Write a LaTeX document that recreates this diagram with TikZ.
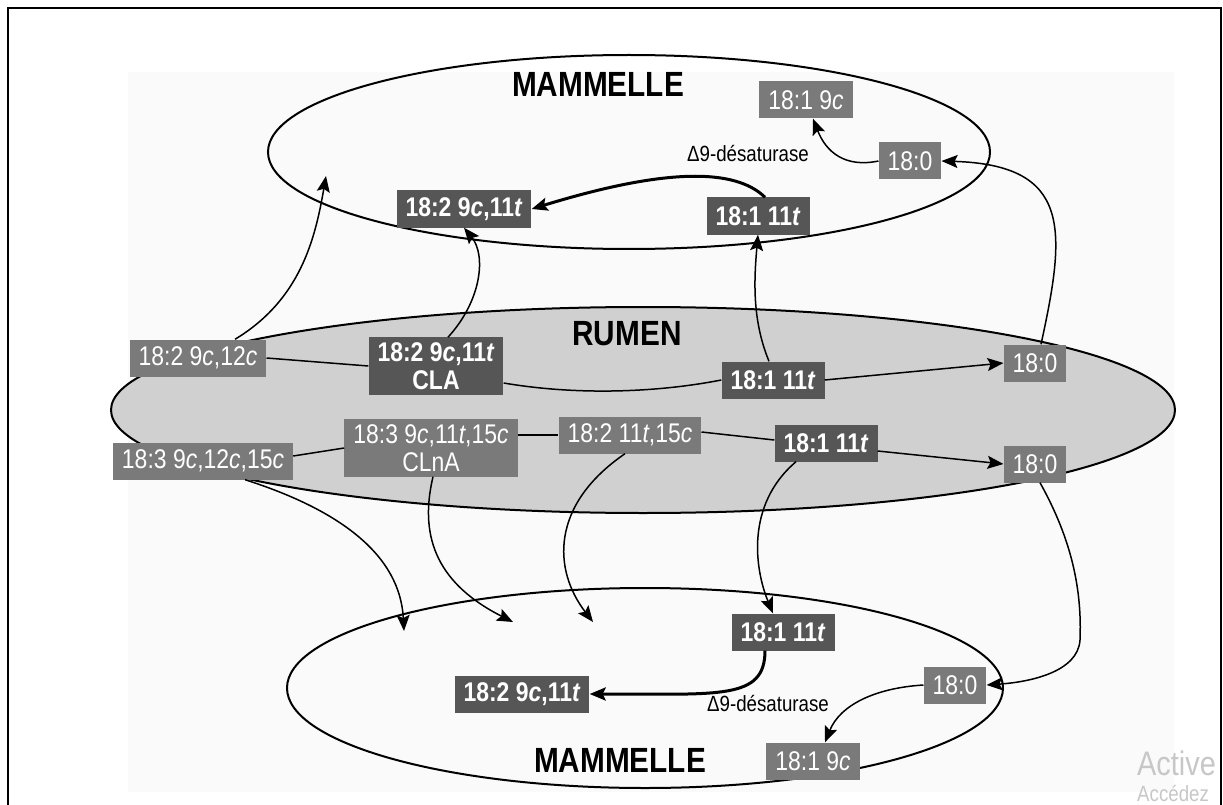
\documentclass[tikz,border=0pt]{standalone}
\usepackage{fontspec}
\setmainfont{Liberation Sans}[FakeStretch=0.85]
\usetikzlibrary{arrows.meta}
\definecolor{darkbox}{RGB}{86,86,86}
\definecolor{midbox}{RGB}{122,122,122}
\definecolor{rumenfill}{RGB}{208,208,208}
\newcommand{\isc}{\textit{c}}
\newcommand{\ist}{\textit{t}}
\begin{document}
\begin{tikzpicture}[x=1pt,y=-1pt,
	acid/.style={fill=midbox, text=white, inner xsep=9pt, inner ysep=5pt, minimum height=37pt, align=center, font=\fontsize{27}{28}\selectfont},
	acidb/.style={acid, fill=darkbox, font=\fontsize{27}{28}\selectfont\bfseries},
	flow/.style={line width=1.5pt, -{Stealth[length=16pt,width=13pt,inset=3pt]}},
	flowb/.style={flow, line width=3pt},
	link/.style={line width=1.5pt},
	organ/.style={anchor=base, font=\fontsize{35}{36}\selectfont\bfseries},
	enz/.style={font=\fontsize{22}{22}\selectfont}]
	\useasboundingbox (0,0) rectangle (1223,805);
	\fill[black!2] (128,72) rectangle (1174,792);
	\draw[line width=2.5pt] (8,830) -- (8,8) -- (1221,8) -- (1221,830);
	% compartments
	\draw[line width=2pt] (629,152) ellipse [x radius=361, y radius=97];
	\draw[line width=2pt, fill=rumenfill] (643,410) ellipse [x radius=532, y radius=103];
	\draw[line width=2pt] (645,688) ellipse [x radius=358, y radius=100];
	\node[organ] (mamtop) at (598,97) {MAMMELLE};
	\node[organ] (rumen) at (627,345) {RUMEN};
	\node[organ] (mambot) at (620,772) {MAMMELLE};
	% mammelle (haut)
	\node[acid] (t1) at (806,100) {18:1 9\isc};
	\node[acid] (t2) at (910,161) {18:0};
	\node[acidb] (t3) at (464,209) {18:2 9\isc,11\ist};
	\node[acidb] (t4) at (758,216) {18:1 11\ist};
	\node[enz] (dtop) at (748,154) {Δ9-désaturase};
	% rumen
	\node[acid] (m1) at (198,358) {18:2 9\isc,12\isc};
	\node[acidb] (m2) at (436,366) {18:2 9\isc,11\ist\\CLA};
	\node[acidb] (m3) at (773,380) {18:1 11\ist};
	\node[acid] (m4) at (1035,363) {18:0};
	\node[acid] (m5) at (203,461) {18:3 9\isc,12\isc,15\isc};
	\node[acid] (m6) at (431,448) {18:3 9\isc,11\ist,15\isc\\CLnA};
	\node[acid] (m7) at (630,435) {18:2 11\ist,15\isc};
	\node[acidb] (m8) at (826,443) {18:1 11\ist};
	\node[acid] (m9) at (1035,464) {18:0};
	% mammelle (bas)
	\node[acidb] (b1) at (783,632) {18:1 11\ist};
	\node[acidb] (b2) at (522,694) {18:2 9\isc,11\ist};
	\node[acid] (b3) at (955,685) {18:0};
	\node[acid] (b4) at (813,761) {18:1 9\isc};
	\node[enz] (dbot) at (768,704) {Δ9-désaturase};
	\coordinate (upA) at (326,176);
	\coordinate (dnA) at (404,631);
	\coordinate (dnB) at (513,622);
	\coordinate (dnC) at (593,622);
	% rumen chains
	\draw[link] (m1.east) -- (m2.west);
	\draw[link] ([yshift=-17pt]m2.east) .. controls (580,396) and (660,392) .. (m3.west);
	\draw[flow] (m3.east) -- (m4.west);
	\draw[link] ([yshift=5pt]m5.east) -- (m6.west);
	\draw[link] (m6.east |- m7.west) -- (m7.west);
	\draw[link] ([yshift=3pt]m7.east) -- ([yshift=3pt]m8.west);
	\draw[flow] ([yshift=-8pt]m8.east) -- (m9.west);
	% vers la mammelle (haut)
	\draw[flow] ([xshift=37pt]m1.north) .. controls (300,300) and (315,240) .. (upA);
	\draw[flow] ([xshift=12pt]m2.north) .. controls (482,300) and (486,255) .. (t3.south);
	\draw[flow] ([xshift=-4pt]m3.north) .. controls (752,320) and (754,280) .. (t4.south);
	\draw[flow] ([xshift=6pt]m4.north) .. controls (1066,230) and (1072,165) .. (t2.east);
	\draw[flowb] ([xshift=7pt]t4.north) .. controls (735,168) and (665,168) .. (t3.east);
	\draw[flow] (t2.west) .. controls (845,168) and (826,152) .. ([xshift=7pt]t1.south);
	% vers la mammelle (bas)
	\draw[flow] ([xshift=42pt]m5.south) .. controls (340,510) and (400,555) .. (dnA);
	\draw[flow] ([xshift=2pt]m6.south) .. controls (418,540) and (440,585) .. (dnB);
	\draw[flow] ([xshift=-5pt]m7.south) .. controls (550,505) and (553,570) .. (dnC);
	\draw[flow] ([xshift=-30pt]m8.south) .. controls (745,505) and (755,570) .. ([xshift=-10pt]b1.north);
	\draw[flow] ([xshift=5pt]m9.south) .. controls (1072,540) and (1082,590) .. (1080,640) .. controls (1078,672) and (1030,682) .. (b3.east);
	\draw[flowb] ([xshift=-18pt]b1.south) .. controls (765,700) and (720,694) .. (b2.east);
	\draw[flow] (b3.west) .. controls (875,688) and (840,705) .. ([xshift=12pt]b4.north);
	% filigrane
	\node[anchor=base west, text=black!22, font=\fontsize{34}{36}\selectfont, inner sep=0pt] (wm1) at (1137,775) {Active};
	\node[anchor=base west, text=black!22, font=\fontsize{22}{24}\selectfont, inner sep=0pt] (wm2) at (1137,801) {Accédez};
\end{tikzpicture}
\end{document}
